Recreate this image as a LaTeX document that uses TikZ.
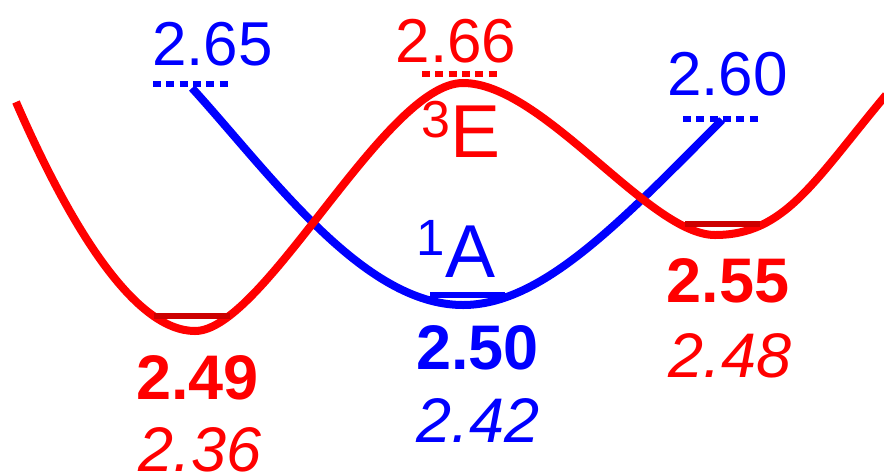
\documentclass[tikz,border=0pt]{standalone}
\usepackage{fontspec}
\setmainfont{Liberation Sans}
\definecolor{cred}{RGB}{255,0,0}
\definecolor{cblue}{RGB}{0,0,255}
\definecolor{dred}{RGB}{204,0,0}
\begin{document}
\begin{tikzpicture}[x=1pt,y=-1pt,
  curve/.style={line width=8pt},
  levelline/.style={line width=6pt},
  dotline/.style={line width=6pt, dash pattern=on 8pt off 5.3pt},
  lbl/.style={inner sep=0pt, anchor=base, font=\fontsize{62}{62}\selectfont},
  blbl/.style={inner sep=0pt, anchor=base, font=\fontsize{63}{63}\selectfont\bfseries},
  ilbl/.style={inner sep=0pt, anchor=base, font=\fontsize{63}{63}\selectfont\itshape},
  term/.style={inner sep=0pt, anchor=base west}
]
\useasboundingbox (0,0) rectangle (884,475);
% curves
\draw[curve,cblue] (192,88) .. controls (272,176) and (363,305) .. (463,305)
  .. controls (543,305) and (622,220) .. (722,120);
\draw[curve,cred] (16,102) .. controls (71,228.5) and (135,331) .. (195,331)
  .. controls (264,331) and (385,83) .. (463,83)
  .. controls (543,83) and (649,235) .. (715,235)
  .. controls (785,235) and (814,181) .. (886,95);
% levels
\draw[levelline,dred] (154,316) -- (230,316);
\draw[levelline,cblue] (430,295) -- (505,295);
\draw[levelline,dred] (685,224) -- (760,224);
% dotted levels
\draw[dotline,cblue] (153,83.5) -- (228,83.5);
\draw[dotline,cred] (422,74) -- (497,74);
\draw[dotline,cblue] (683,119) -- (758,119);
% labels
\node[lbl,cblue] (t265) at (212.5,65) {2.65};
\node[lbl,cred] (t266) at (456,62) {2.66};
\node[lbl,cblue] (t260) at (727.5,95) {2.60};
\node[term,cred] (tE) at (421,157) {\fontsize{52}{52}\selectfont\raisebox{20pt}{3}\fontsize{75}{75}\selectfont E};
\node[term,cblue] (tA) at (416.5,277) {\fontsize{51}{51}\selectfont\raisebox{22pt}{1}\fontsize{75}{75}\selectfont A};
\node[blbl,cred] (b249) at (197.5,399) {2.49};
\node[ilbl,cred] (i236) at (200,471) {2.36};
\node[blbl,cblue] (b250) at (477.5,369) {2.50};
\node[ilbl,cblue] (i242) at (478,442) {2.42};
\node[blbl,cred] (b255) at (728,302) {2.55};
\node[ilbl,cred] (i248) at (730,377) {2.48};
\end{tikzpicture}
\end{document}
